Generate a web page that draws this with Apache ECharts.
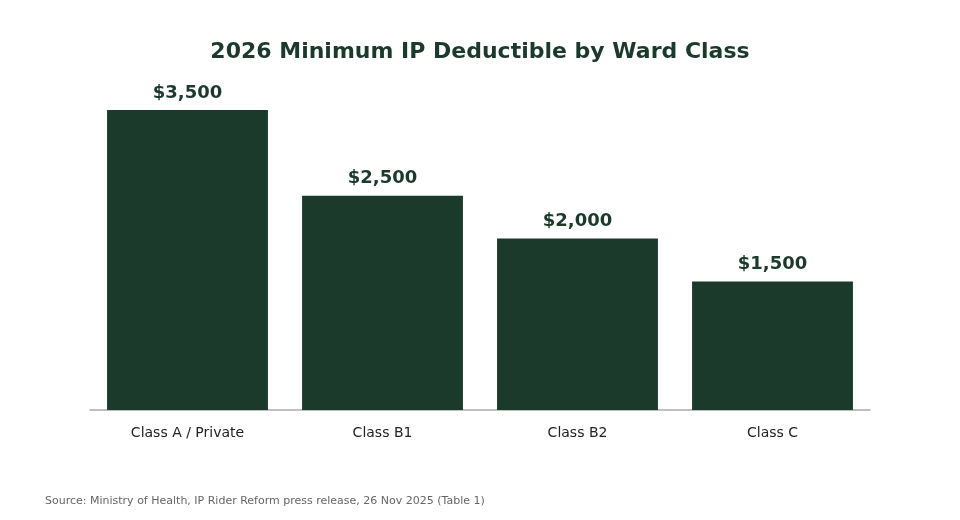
<!DOCTYPE html>
<html><head><meta charset="utf-8">
<script src="https://cdn.jsdelivr.net/npm/echarts@6/dist/echarts.min.js"></script>
<style>html,body{margin:0;padding:0;background:#fff}#c{width:960px;height:520px}</style>
</head><body><div id="c"></div>
<script>
const categories = ["Class A / Private", "Class B1", "Class B2", "Class C"];
const deductibles = [3500, 2500, 2000, 1500];
const chart = echarts.init(document.getElementById('c'));
chart.setOption({
  animation: false,
  textStyle: { fontFamily: 'DejaVu Sans' },
  title: [{
    text: '2026 Minimum IP Deductible by Ward Class', left: 'center', top: 36,
    textStyle: { fontSize: 22, fontWeight: 'bold', color: '#1b3a2b', fontFamily: 'DejaVu Sans' }
  }, {
    text: 'Source: Ministry of Health, IP Rider Reform press release, 26 Nov 2025 (Table 1)',
    left: 40, top: 491,
    textStyle: { fontSize: 11, fontWeight: 'normal', color: '#666', fontFamily: 'DejaVu Sans' }
  }],
  grid: { left: 90, right: 90, top: 110, bottom: 110 },
  xAxis: {
    type: 'category', data: categories,
    axisLine: { lineStyle: { color: '#aaa', width: 1.5 } },
    axisTick: { show: false },
    axisLabel: { fontSize: 14, color: '#222', margin: 16 }
  },
  yAxis: { type: 'value', min: 0, max: 3500, show: false, splitLine: { show: false } },
  series: [{
    type: 'bar', data: deductibles, barCategoryGap: '17.5%',
    itemStyle: { color: '#1b3a2b' },
    label: {
      show: true, position: 'top', distance: 8, fontSize: 18, fontWeight: 'bold', color: '#1b3a2b',
      formatter: p => '$' + p.value.toLocaleString('en-US')
    }
  }]
});
</script></body></html>
